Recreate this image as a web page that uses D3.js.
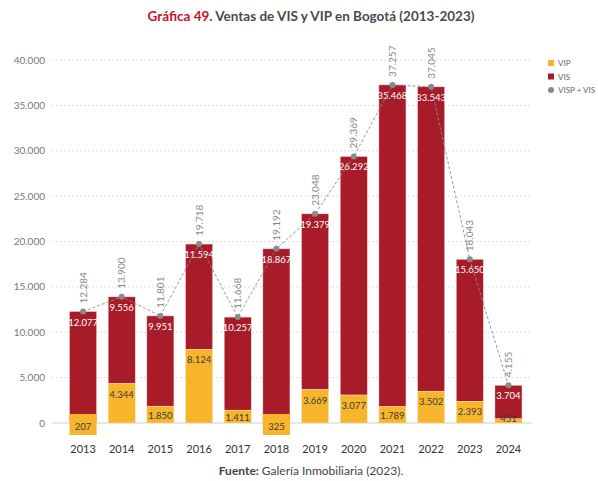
<!DOCTYPE html>
<html><head><meta charset="utf-8">
<script src="https://cdn.jsdelivr.net/npm/d3@7"></script>
<style>body{margin:0;background:#fff}svg{display:block;font-family:Lato,"Open Sans",sans-serif}</style>
</head><body><svg id="c" width="598" height="481"></svg>
<script>
const years = ["2013","2014","2015","2016","2017","2018","2019","2020","2021","2022","2023","2024"];
const vip = [207,4344,1850,8124,1411,325,3669,3077,1789,3502,2393,451];
const vis = [12077,9556,9951,11594,10257,18867,19379,26292,35468,33543,15650,3704];
const totals = [12284,13900,11801,19718,11668,19192,23048,29369,37257,37045,18043,4155];
const yTicks = [0,5000,10000,15000,20000,25000,30000,35000,40000];
const legendItems = ["VIP","VIS","VISP + VIS"];

const RED="#a81b29", YEL="#f6b52b", GREY="#8a8a8a";
const svg=d3.select("#c");
const fmt=d3.formatLocale({decimal:",",thousands:".",grouping:[3],currency:["$",""]}).format(",d");

const x=d3.scaleBand().domain(years).range([69.5,522]).paddingInner(0.3).paddingOuter(0);
const y=d3.scaleLinear().domain([0,40000]).range([423,60]);

// title
const t=svg.append("text").attr("x",311).attr("y",21).attr("text-anchor","middle")
  .attr("font-size",13.5).attr("font-weight","bold");
t.append("tspan").attr("fill","#c8102e").text("Gráfica 49. ");
t.append("tspan").attr("fill","#4a4a4a").text("Ventas de VIS y VIP en Bogotá (2013-2023)");

// grid
svg.append("g").selectAll("line").data(yTicks.filter(d=>d>0)).join("line")
  .attr("x1",52).attr("x2",532).attr("y1",d=>y(d)).attr("y2",d=>y(d))
  .attr("stroke","#d4d4d4").attr("stroke-dasharray","2,2").attr("stroke-width",0.8);
svg.append("line").attr("x1",52).attr("x2",532).attr("y1",y(0)).attr("y2",y(0))
  .attr("stroke","#cfcfcf").attr("stroke-width",1);
// y labels
svg.append("g").selectAll("text").data(yTicks).join("text")
  .attr("x",45).attr("y",d=>y(d)+3.5).attr("text-anchor","end")
  .attr("font-size",10).attr("fill","#777").text(d=>fmt(d));

// bars
const g=svg.append("g");
years.forEach((yr,i)=>{
  const x0=x(yr), w=x.bandwidth();
  g.append("rect").attr("x",x0).attr("width",w).attr("y",y(vip[i]+vis[i])).attr("height",y(vip[i])-y(vip[i]+vis[i]))
    .attr("fill",RED).attr("stroke","#f3d6d8").attr("stroke-width",0.5);
  g.append("rect").attr("x",x0).attr("width",w).attr("y",y(vip[i])).attr("height",y(0)-y(vip[i]))
    .attr("fill",YEL).attr("stroke","#fbe7bd").attr("stroke-width",0.5);
  // VIS label
  g.append("text").attr("x",x0+w/2).attr("y",y(vip[i]+vis[i])+14).attr("text-anchor","middle")
    .attr("font-size",9.5).attr("fill","#fff").text(fmt(vis[i]));
  // VIP label
  const h=y(0)-y(vip[i]);
  const share=vip[i]/totals[i];
  if(share<0.03){
    g.append("rect").attr("x",x0).attr("width",w).attr("y",y(0)-9).attr("height",21).attr("fill",YEL);
    g.append("text").attr("x",x0+w/2).attr("y",y(0)+7).attr("text-anchor","middle")
      .attr("font-size",9.5).attr("fill","#3a3a3a").text(fmt(vip[i]));
  } else if(h<12){
    g.append("text").attr("x",x0+w/2).attr("y",y(0)-1).attr("text-anchor","middle")
      .attr("font-size",9.5).attr("fill","#3a3a3a").text(fmt(vip[i]));
  } else {
    g.append("text").attr("x",x0+w/2).attr("y",y(vip[i])+Math.min(14,h/2+4)).attr("text-anchor","middle")
      .attr("font-size",9.5).attr("fill","#3a3a3a").text(fmt(vip[i]));
  }
});

// totals line
const line=d3.line().x((d,i)=>x(years[i])+x.bandwidth()/2).y(d=>y(d));
svg.append("path").attr("d",line(totals)).attr("fill","none").attr("stroke","#8c8c8c")
  .attr("stroke-width",0.9).attr("stroke-dasharray","3,2");
svg.append("g").selectAll("circle").data(totals).join("circle")
  .attr("cx",(d,i)=>x(years[i])+x.bandwidth()/2).attr("cy",d=>y(d)).attr("r",3).attr("fill",GREY);
svg.append("g").selectAll("text").data(totals).join("text")
  .attr("transform",(d,i)=>`translate(${x(years[i])+x.bandwidth()/2+3.5},${y(d)-8}) rotate(-90)`)
  .attr("font-size",10).attr("fill","#888").text(d=>fmt(d));

// x labels
svg.append("g").selectAll("text").data(years).join("text")
  .attr("x",d=>x(d)+x.bandwidth()/2).attr("y",453).attr("text-anchor","middle")
  .attr("font-size",11).attr("fill","#333").text(d=>d);

// legend
const lg=svg.append("g");
legendItems.forEach((d,i)=>{
  const yy=63+i*13.5;
  if(i<2) lg.append("rect").attr("x",548).attr("y",yy-3).attr("width",6).attr("height",6).attr("fill",i===0?YEL:RED);
  else lg.append("circle").attr("cx",551).attr("cy",yy).attr("r",3).attr("fill",GREY);
  lg.append("text").attr("x",558).attr("y",yy+3).attr("font-size",8).attr("fill","#666").text(d);
});

// source
const s=svg.append("text").attr("x",311).attr("y",475).attr("text-anchor","middle").attr("font-size",12).attr("fill","#444");
s.append("tspan").attr("font-weight","bold").text("Fuente: ");
s.append("tspan").text("Galería Inmobiliaria (2023).");
</script></body></html>
